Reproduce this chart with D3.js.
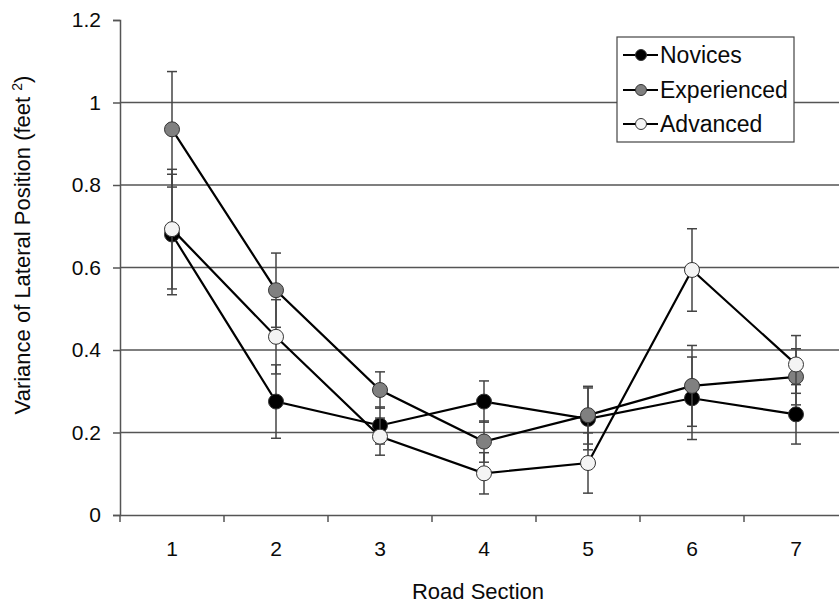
<!DOCTYPE html>
<html>
<head>
<meta charset="utf-8">
<script src="https://cdn.jsdelivr.net/npm/d3@7"></script>
<style>
  html, body { margin: 0; padding: 0; background: #fff; }
  svg { display: block; font-family: "Liberation Sans", Arial, sans-serif; }
</style>
</head>
<body>
<svg id="chart" width="839" height="605"></svg>
<script>
// ---- data ----
const sections = ["1", "2", "3", "4", "5", "6", "7"];
const yTicks = [0, 0.2, 0.4, 0.6, 0.8, 1, 1.2];
const seriesNames = ["Novices", "Experienced", "Advanced"];
const novices = [0.68, 0.275, 0.217, 0.275, 0.233, 0.283, 0.244];
const novicesErr = [0.146, 0.089, 0.045, 0.05, 0.075, 0.10, 0.072];
const experienced = [0.935, 0.545, 0.303, 0.178, 0.242, 0.313, 0.335];
const experiencedErr = [0.14, 0.09, 0.044, 0.05, 0.07, 0.098, 0.068];
const advanced = [0.693, 0.432, 0.19, 0.101, 0.126, 0.594, 0.365];
const advancedErr = [0.145, 0.09, 0.045, 0.05, 0.073, 0.10, 0.07];
const fills = ["#000000", "#808080", "#f4f4f4"];

const series = [
  { name: seriesNames[0], values: novices, errs: novicesErr, fill: fills[0] },
  { name: seriesNames[1], values: experienced, errs: experiencedErr, fill: fills[1] },
  { name: seriesNames[2], values: advanced, errs: advancedErr, fill: fills[2] }
];

const svg = d3.select("#chart");
const mLeft = 120, mRight = 848, mTop = 20, mBottom = 515;

const x = d3.scaleBand().domain(sections).range([mLeft, mRight]).padding(0);
const y = d3.scaleLinear().domain([0, 1.2]).range([mBottom, mTop]);
const cx = d => x(d) + x.bandwidth() / 2;

// gridlines
svg.append("g").selectAll("line")
  .data(yTicks.filter(t => t > 0 && t < 1.2))
  .join("line")
  .attr("x1", mLeft).attr("x2", 839)
  .attr("y1", d => y(d)).attr("y2", d => y(d))
  .attr("stroke", "#555").attr("stroke-width", 1.5);

// y axis
const yAxis = d3.axisLeft(y).tickValues(yTicks).tickSize(7).tickPadding(12)
  .tickFormat(d => d3.format("~g")(d));
const gy = svg.append("g").attr("transform", `translate(${mLeft},0)`).call(yAxis);
gy.select(".domain").attr("stroke", "#555").attr("stroke-width", 1.5);
gy.selectAll(".tick line").attr("stroke", "#555").attr("stroke-width", 1.5);
gy.selectAll(".tick text").attr("font-size", 21).attr("fill", "#0a0a0a")
  .attr("font-family", "Liberation Sans, Arial, sans-serif");

// x axis
const xAxis = d3.axisBottom(x).tickSize(0).tickPadding(26);
const gx = svg.append("g").attr("transform", `translate(0,${mBottom})`).call(xAxis);
gx.select(".domain").attr("stroke", "#555").attr("stroke-width", 1.5);
gx.selectAll(".tick text").attr("font-size", 21).attr("fill", "#0a0a0a")
  .attr("font-family", "Liberation Sans, Arial, sans-serif");
// boundary tick marks
const bounds = sections.map(s => x(s)).concat([x(sections[sections.length - 1]) + x.bandwidth()]);
svg.append("g").selectAll("line").data(bounds).join("line")
  .attr("x1", d => d).attr("x2", d => d)
  .attr("y1", mBottom).attr("y2", mBottom + 7)
  .attr("stroke", "#555").attr("stroke-width", 1.5);

// series
const line = d3.line().x((d, i) => cx(sections[i])).y(d => y(d));
series.forEach(s => {
  const g = svg.append("g");
  // error bars
  s.values.forEach((v, i) => {
    const xx = cx(sections[i]);
    const y0 = y(v - s.errs[i]), y1 = y(v + s.errs[i]);
    g.append("line").attr("x1", xx).attr("x2", xx).attr("y1", y0).attr("y2", y1)
      .attr("stroke", "#444").attr("stroke-width", 1.5);
    [y0, y1].forEach(yy => g.append("line")
      .attr("x1", xx - 5).attr("x2", xx + 5).attr("y1", yy).attr("y2", yy)
      .attr("stroke", "#444").attr("stroke-width", 1.5));
  });
  g.append("path").attr("d", line(s.values)).attr("fill", "none")
    .attr("stroke", "#000").attr("stroke-width", 2.2);
  g.selectAll("circle").data(s.values).join("circle")
    .attr("cx", (d, i) => cx(sections[i])).attr("cy", d => y(d)).attr("r", 7.5)
    .attr("fill", s.fill).attr("stroke", "#333").attr("stroke-width", 1);
});

// legend
const lg = svg.append("g");
lg.append("rect").attr("x", 617).attr("y", 37).attr("width", 177).attr("height", 105)
  .attr("fill", "#fff").attr("stroke", "#444").attr("stroke-width", 1.2);
const rowsY = [55, 90, 124];
series.forEach((s, i) => {
  lg.append("line").attr("x1", 623).attr("x2", 658).attr("y1", rowsY[i]).attr("y2", rowsY[i])
    .attr("stroke", "#000").attr("stroke-width", 2);
  lg.append("circle").attr("cx", 641).attr("cy", rowsY[i]).attr("r", 5.5)
    .attr("fill", s.fill).attr("stroke", "#333").attr("stroke-width", 1);
  lg.append("text").attr("x", 660).attr("y", rowsY[i]).attr("dy", "0.36em")
    .attr("font-size", 23).attr("fill", "#0a0a0a").text(s.name);
});

// axis titles
svg.append("text").attr("x", 478).attr("y", 599).attr("text-anchor", "middle")
  .attr("font-size", 22).attr("fill", "#0a0a0a").text("Road Section");
const yt = svg.append("text").attr("transform", "translate(30,245) rotate(-90)")
  .attr("text-anchor", "middle").attr("font-size", 22).attr("fill", "#0a0a0a");
yt.append("tspan").text("Variance of Lateral Position (feet ");
yt.append("tspan").attr("font-size", 14).attr("dy", -8).text("2");
yt.append("tspan").attr("dy", 8).text(")");
</script>
</body>
</html>
